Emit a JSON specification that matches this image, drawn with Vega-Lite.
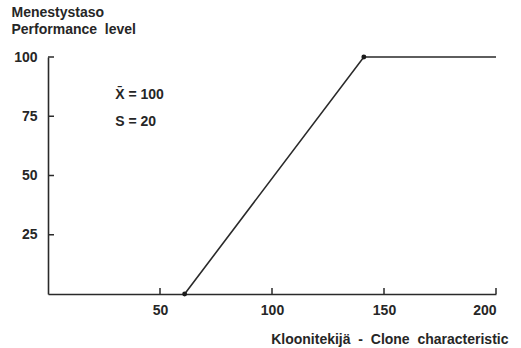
{
  "$schema": "https://vega.github.io/schema/vega-lite/v6.json",
  "width": 448,
  "height": 237,
  "autosize": "none",
  "padding": {"left": 48, "top": 57, "right": 25, "bottom": 54},
  "background": "white",
  "config": {
    "view": {"stroke": null},
    "font": "Liberation Sans",
    "axis": {
      "grid": false,
      "domainColor": "#2a2a2a",
      "domainWidth": 1.6,
      "ticks": false,
      "tickSize": 0,
      "labelFont": "Liberation Sans",
      "labelFontSize": 14,
      "labelFontWeight": "bold",
      "labelColor": "#262626",
      "titleFont": "Liberation Sans",
      "titleFontSize": 14,
      "titleFontWeight": "bold",
      "titleColor": "#262626"
    }
  },
  "datasets": {
    "curve": [
      {"x": 61, "y": 0},
      {"x": 141, "y": 100},
      {"x": 200, "y": 100}
    ],
    "dots": [
      {"x": 61, "y": 0},
      {"x": 141, "y": 100}
    ],
    "xticks": [{"x": 50}, {"x": 100}, {"x": 150}, {"x": 200}],
    "yticks": [{"y": 25}, {"y": 50}, {"y": 75}, {"y": 100}],
    "notes": [
      {"x": 30, "y": 84, "label": "X̄ = 100"},
      {"x": 30, "y": 72.5, "label": "S = 20"}
    ]
  },
  "layer": [
    {
      "data": {"name": "curve"},
      "mark": {"type": "line", "color": "#2a2a2a", "strokeWidth": 1.6},
      "encoding": {
        "x": {
          "field": "x", "type": "quantitative",
          "scale": {"domain": [0, 200], "nice": false},
          "axis": {
            "values": [50, 100, 150, 200],
            "labelPadding": 9,
            "title": "Kloonitekijä \u00a0- \u00a0Clone \u00a0characteristic",
            "titleAnchor": "end",
            "titleAlign": "right",
            "titleX": 460,
            "titleY": 45,
            "titleBaseline": "middle"
          }
        },
        "y": {
          "field": "y", "type": "quantitative",
          "scale": {"domain": [0, 100], "nice": false},
          "axis": {
            "values": [25, 50, 75, 100],
            "labelPadding": 11,
            "title": ["Menestystaso", "Performance \u00a0level"],
            "titleAngle": 0,
            "titleAlign": "left",
            "titleBaseline": "top",
            "titleX": -37,
            "titleY": -52,
            "titleLineHeight": 17
          }
        }
      }
    },
    {
      "data": {"name": "yticks"},
      "mark": {"type": "tick", "color": "#2a2a2a", "orient": "horizontal", "size": 6, "thickness": 1.5, "xOffset": 3, "opacity": 1},
      "encoding": {
        "x": {"datum": 0, "type": "quantitative"},
        "y": {"field": "y", "type": "quantitative"}
      }
    },
    {
      "data": {"name": "xticks"},
      "mark": {"type": "tick", "color": "#2a2a2a", "orient": "vertical", "size": 6, "thickness": 1.5, "yOffset": -3, "opacity": 1},
      "encoding": {
        "x": {"field": "x", "type": "quantitative"},
        "y": {"datum": 0, "type": "quantitative"}
      }
    },
    {
      "data": {"name": "dots"},
      "mark": {"type": "point", "filled": true, "color": "#1a1a1a", "size": 24, "opacity": 1},
      "encoding": {
        "x": {"field": "x", "type": "quantitative"},
        "y": {"field": "y", "type": "quantitative"}
      }
    },
    {
      "data": {"name": "notes"},
      "mark": {"type": "text", "align": "left", "baseline": "middle", "fontSize": 14, "fontWeight": "bold", "color": "#262626", "font": "Liberation Sans"},
      "encoding": {
        "x": {"field": "x", "type": "quantitative"},
        "y": {"field": "y", "type": "quantitative"},
        "text": {"field": "label"}
      }
    }
  ]
}
